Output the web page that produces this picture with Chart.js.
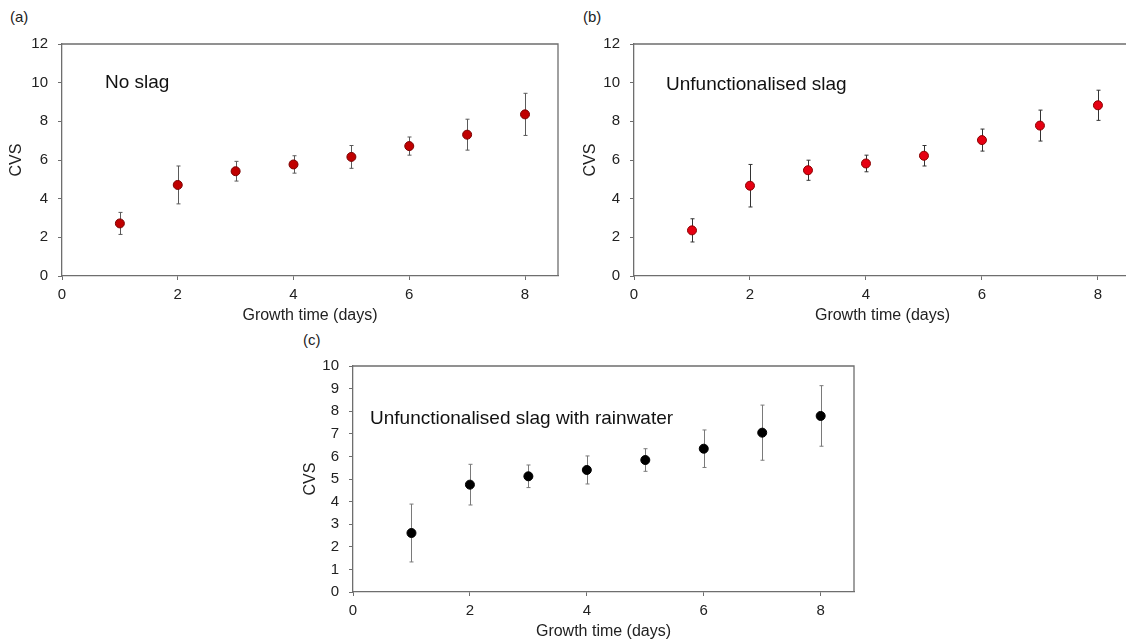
<!DOCTYPE html>
<html>
<head>
<meta charset="utf-8">
<script src="https://cdn.jsdelivr.net/npm/chart.js@4.4.1/dist/chart.umd.min.js"></script>
<style>
  html, body { margin: 0; padding: 0; background: #fff; overflow: hidden; }
  body { width: 1126px; height: 639px; position: relative; }
  .panel { position: absolute; }
  .tag { position: absolute; font: 15px "Liberation Sans", Arial, sans-serif; color: #222; }
</style>
</head>
<body>
<div class="tag" style="left:10px; top:8px;">(a)</div>
<div class="tag" style="left:583px; top:8px;">(b)</div>
<div class="tag" style="left:303px; top:331px;">(c)</div>

<canvas id="chartA" class="panel" width="575" height="330" style="left:0px; top:0px;"></canvas>
<canvas id="chartB" class="panel" width="580" height="330" style="left:574px; top:0px;"></canvas>
<canvas id="chartC" class="panel" width="580" height="312" style="left:294px; top:330px;"></canvas>

<script>
// data
const days = [1, 2, 3, 4, 5, 6, 7, 8];
const xTicks = [0, 2, 4, 6, 8];

const noSlagMean = [2.72, 4.71, 5.42, 5.77, 6.16, 6.72, 7.31, 8.36];
const noSlagErr  = [0.57, 0.98, 0.51, 0.45, 0.59, 0.47, 0.80, 1.09];

const unfSlagMean = [2.36, 4.67, 5.47, 5.82, 6.22, 7.03, 7.78, 8.83];
const unfSlagErr  = [0.60, 1.10, 0.52, 0.43, 0.53, 0.57, 0.80, 0.78];

const rainMean = [2.61, 4.75, 5.12, 5.40, 5.84, 6.34, 7.05, 7.79];
const rainErr  = [1.28, 0.90, 0.50, 0.62, 0.50, 0.83, 1.22, 1.34];

const FONT = '"Liberation Sans", Arial, sans-serif';
const AXIS = '#6e6e6e';
const TEXT = '#222';

// error bars, drawn under the markers
const errorBars = {
  id: 'errorBars',
  beforeDatasetsDraw(chart, args, opts) {
    const { ctx, scales: { x, y } } = chart;
    const pts = chart.data.datasets[0].data;
    ctx.save();
    ctx.strokeStyle = opts.color;
    ctx.lineWidth = 1;
    pts.forEach((p, i) => {
      const e = opts.err[i];
      const px = Math.round(x.getPixelForValue(p.x)) + 0.5;
      const yTop = y.getPixelForValue(p.y + e);
      const yBot = y.getPixelForValue(p.y - e);
      ctx.beginPath();
      ctx.moveTo(px, yTop);
      ctx.lineTo(px, yBot);
      ctx.moveTo(px - 2, yTop);
      ctx.lineTo(px + 2, yTop);
      ctx.moveTo(px - 2, yBot);
      ctx.lineTo(px + 2, yBot);
      ctx.stroke();
    });
    ctx.restore();
  }
};

// box around the plot area + the panel note
const frame = {
  id: 'frame',
  afterDraw(chart, args, opts) {
    const { ctx, chartArea: a } = chart;
    ctx.save();
    ctx.strokeStyle = AXIS;
    ctx.lineWidth = 1.3;
    ctx.beginPath();
    ctx.moveTo(a.left, a.top);
    ctx.lineTo(a.right, a.top);
    ctx.lineTo(a.right, a.bottom);
    ctx.stroke();
    ctx.fillStyle = '#111';
    ctx.font = '19px ' + FONT;
    ctx.textBaseline = 'middle';
    ctx.fillText(opts.note, a.left + opts.dx, a.top + opts.dy);
    ctx.restore();
  }
};

function makeChart(id, o) {
  return new Chart(document.getElementById(id), {
    type: 'scatter',
    data: {
      datasets: [{
        data: days.map((d, i) => ({ x: d, y: o.mean[i] })),
        pointRadius: 4.5,
        pointHoverRadius: 4.5,
        pointBackgroundColor: o.fill,
        pointBorderColor: o.edge,
        pointBorderWidth: 1
      }]
    },
    options: {
      responsive: false,
      animation: false,
      devicePixelRatio: 1,
      layout: { padding: o.pad },
      plugins: {
        legend: { display: false },
        tooltip: { enabled: false },
        errorBars: { err: o.err, color: o.barColor },
        frame: { note: o.note, dx: o.dx, dy: o.dy }
      },
      scales: {
        x: {
          type: 'linear',
          min: 0,
          max: 8.57,
          afterBuildTicks: s => { s.ticks = xTicks.map(v => ({ value: v })); },
          afterFit: s => { s.height = 49; },
          grid: { drawOnChartArea: false, drawTicks: true, tickLength: 4, color: AXIS, lineWidth: 1 },
          border: { display: true, color: AXIS, width: 1.3 },
          ticks: { padding: 6, color: TEXT, font: { family: FONT, size: 15 } },
          title: { display: true, text: 'Growth time (days)', color: TEXT, padding: 0, font: { family: FONT, size: 16 } }
        },
        y: {
          min: 0,
          max: o.yMax,
          ticks: { stepSize: o.yStep, padding: 10, color: TEXT, font: { family: FONT, size: 15 } },
          afterFit: s => { s.width = o.yWidth; },
          grid: { drawOnChartArea: false, drawTicks: true, tickLength: 4, color: AXIS, lineWidth: 1 },
          border: { display: true, color: AXIS, width: 1.3 },
          title: { display: true, text: 'CVS', color: TEXT, padding: { top: 7.4, bottom: 0 }, font: { family: FONT, size: 16 } }
        }
      }
    },
    plugins: [errorBars, frame]
  });
}

makeChart('chartA', {
  mean: noSlagMean, err: noSlagErr,
  fill: '#c00000', edge: '#7a0000', barColor: '#5a5a5a',
  yMax: 12, yStep: 2, yWidth: 62,
  pad: { left: 0, top: 44, right: 17, bottom: 5 },
  note: 'No slag', dx: 43, dy: 39
});

makeChart('chartB', {
  mean: unfSlagMean, err: unfSlagErr,
  fill: '#e60012', edge: '#8a0000', barColor: '#333333',
  yMax: 12, yStep: 2, yWidth: 60,
  pad: { left: 0, top: 44, right: 23, bottom: 5 },
  note: 'Unfunctionalised slag', dx: 32, dy: 41
});

makeChart('chartC', {
  mean: rainMean, err: rainErr,
  fill: '#000000', edge: '#000000', barColor: '#7a7a7a',
  yMax: 10, yStep: 1, yWidth: 59,
  pad: { left: 0, top: 36, right: 20, bottom: 1 },
  note: 'Unfunctionalised slag with rainwater', dx: 17, dy: 53
});
</script>
</body>
</html>
